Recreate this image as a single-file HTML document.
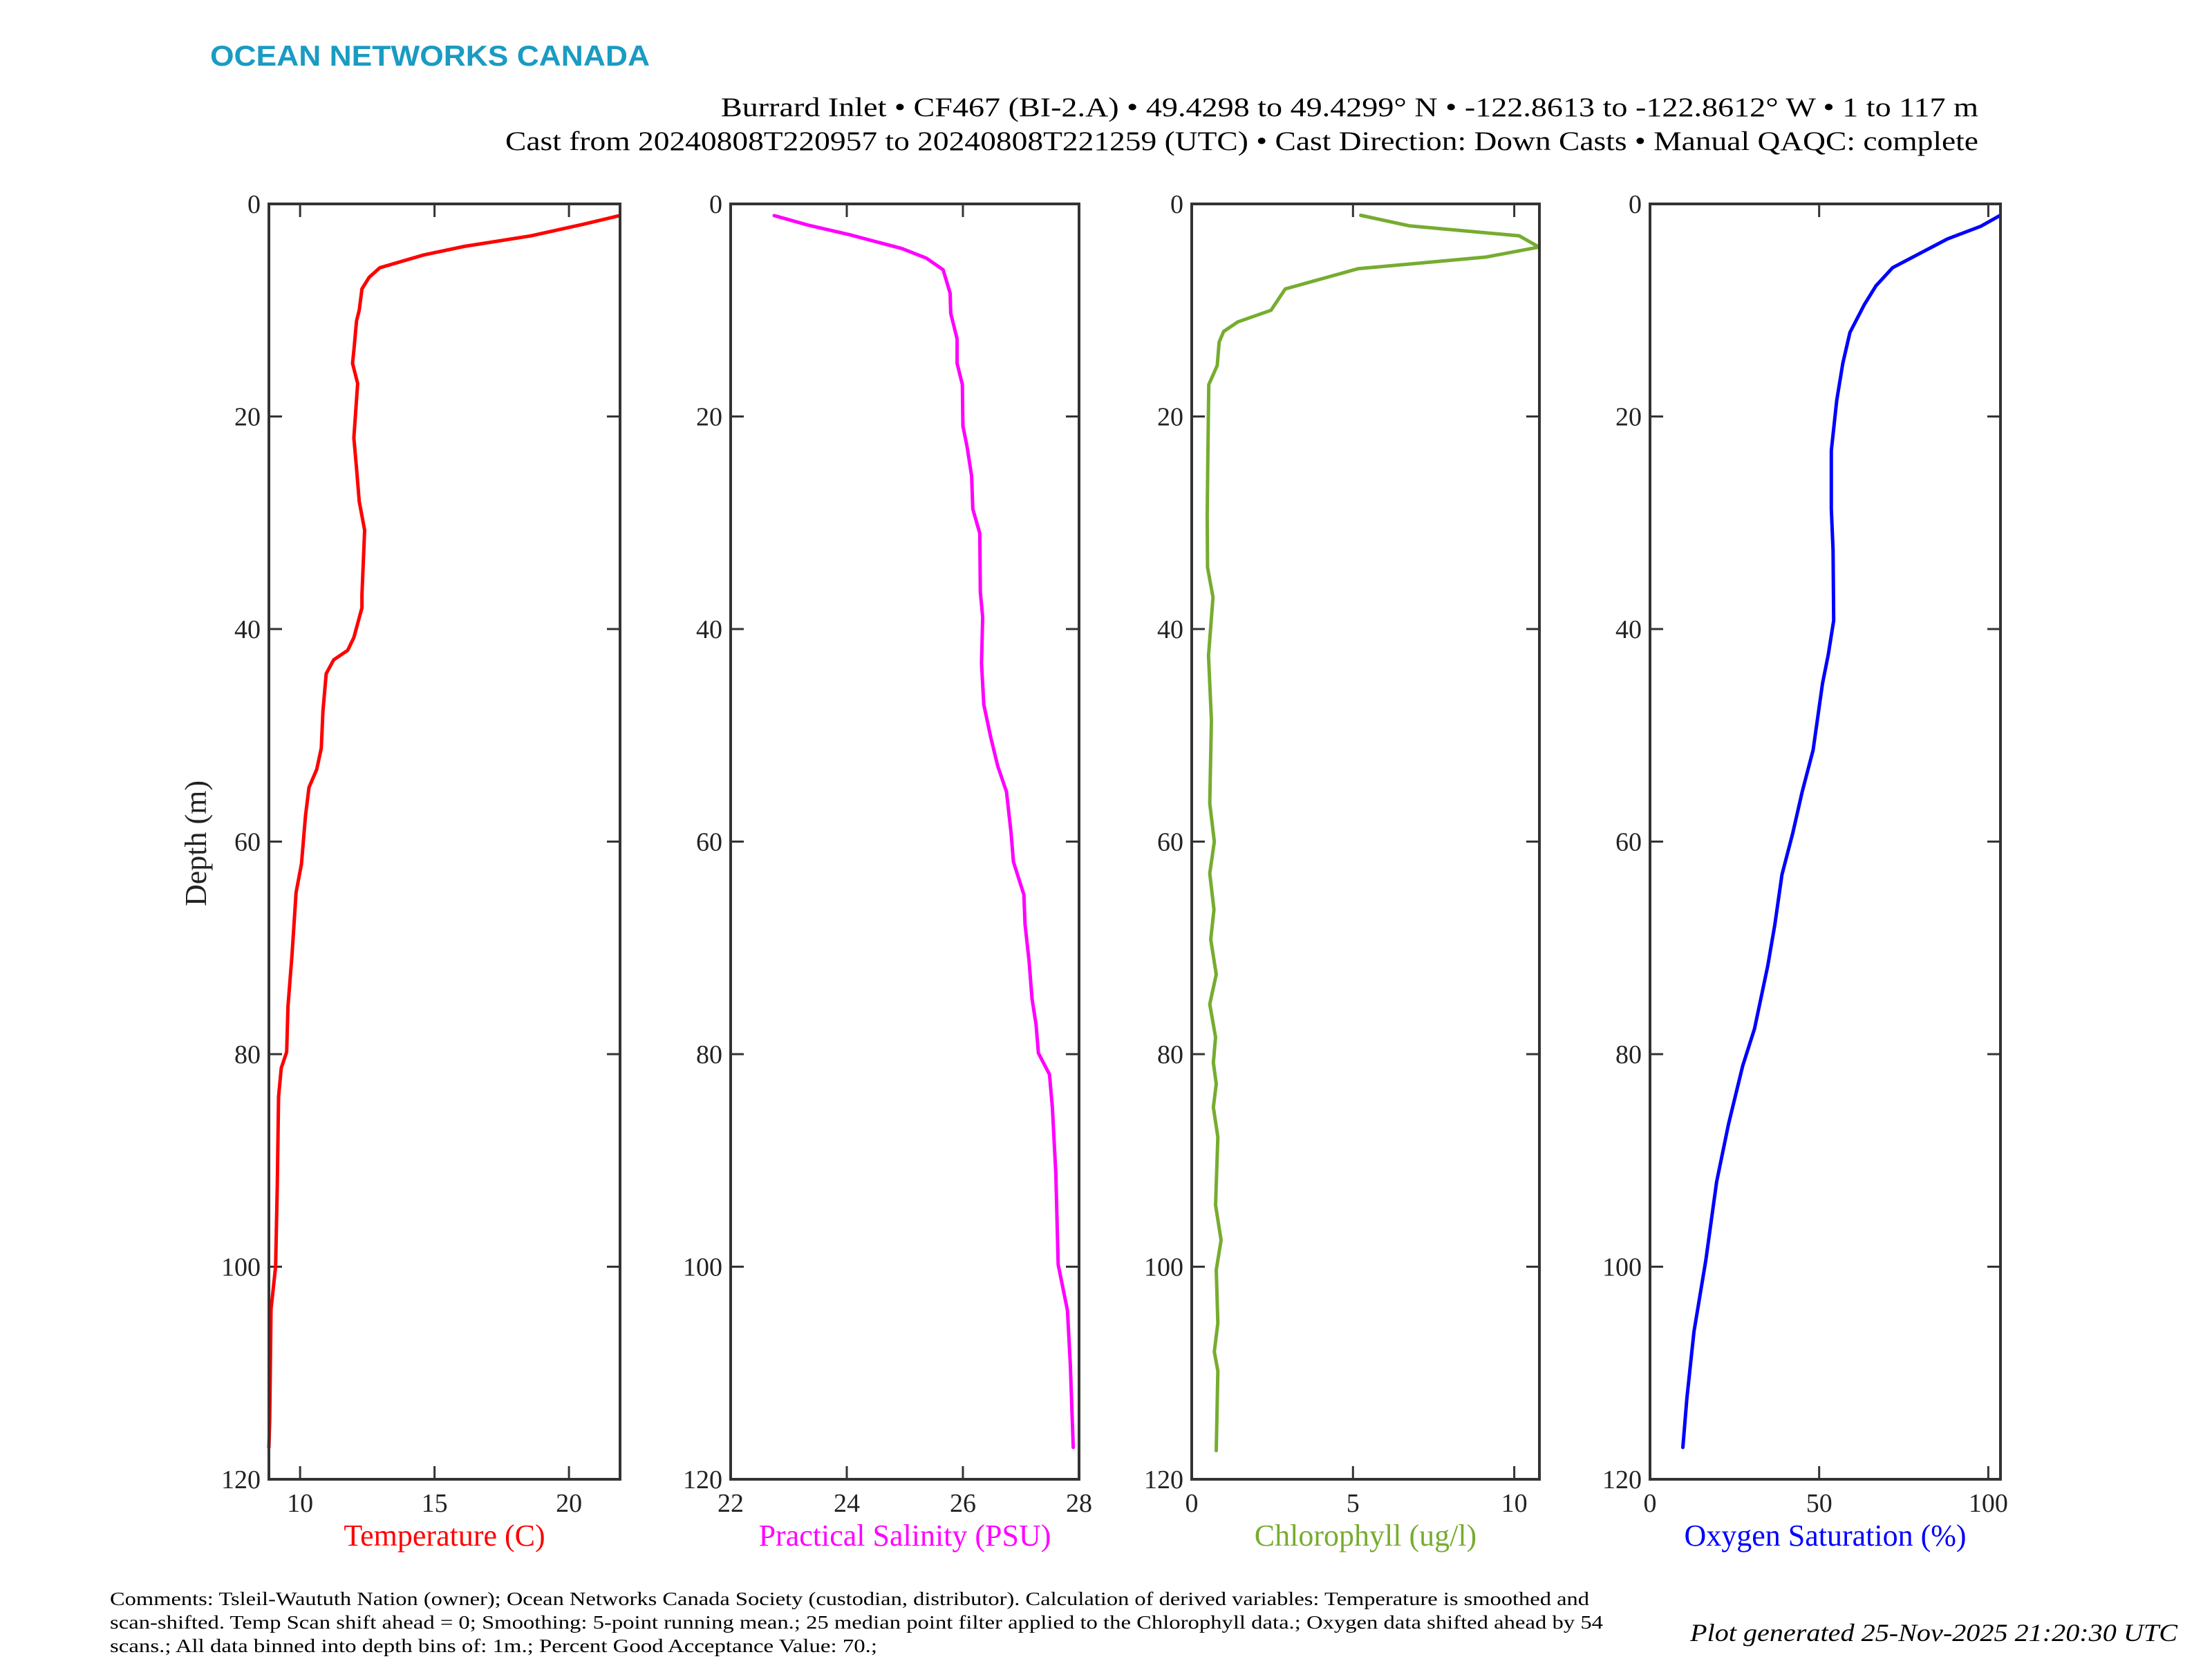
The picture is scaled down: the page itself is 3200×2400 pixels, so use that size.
<!DOCTYPE html>
<html><head><meta charset="utf-8"><style>
html,body{margin:0;padding:0;background:#fff;}
svg{display:block;}
text{font-family:"Liberation Serif",serif;}
</style></head><body>
<svg id="chart" width="3200" height="2400" viewBox="0 0 3200 2400" xmlns="http://www.w3.org/2000/svg">
<rect width="3200" height="2400" fill="#fff"/>
<text x="304" y="95" style="font-family:'Liberation Sans',sans-serif" font-weight="bold" font-size="42" fill="#1a9bc2" textLength="636" lengthAdjust="spacingAndGlyphs">OCEAN NETWORKS CANADA</text>
<text x="2862" y="168" text-anchor="end" font-size="39" fill="#000" textLength="1819" lengthAdjust="spacingAndGlyphs">Burrard Inlet • CF467 (BI-2.A) • 49.4298 to 49.4299° N • -122.8613 to -122.8612° W • 1 to 117 m</text>
<text x="2862" y="217" text-anchor="end" font-size="39" fill="#000" textLength="2131" lengthAdjust="spacingAndGlyphs">Cast from 20240808T220957 to 20240808T221259 (UTC) • Cast Direction: Down Casts • Manual QAQC: complete</text>
<text transform="translate(298,1220) rotate(-90)" text-anchor="middle" font-size="44" fill="#222">Depth (m)</text>
<g id="panels"></g>
<text x="159" y="2322" font-size="27" fill="#000" textLength="2140" lengthAdjust="spacingAndGlyphs">Comments: Tsleil-Waututh Nation (owner); Ocean Networks Canada Society (custodian, distributor). Calculation of derived variables: Temperature is smoothed and</text>
<text x="159" y="2356" font-size="27" fill="#000" textLength="2160" lengthAdjust="spacingAndGlyphs">scan-shifted. Temp Scan shift ahead = 0; Smoothing: 5-point running mean.; 25 median point filter applied to the Chlorophyll data.; Oxygen data shifted ahead by 54</text>
<text x="159" y="2390" font-size="27" fill="#000" textLength="1110" lengthAdjust="spacingAndGlyphs">scans.; All data binned into depth bins of: 1m.; Percent Good Acceptance Value: 70.;</text>
<text x="3150" y="2374" text-anchor="end" font-size="36" font-style="italic" fill="#000" textLength="705" lengthAdjust="spacingAndGlyphs">Plot generated 25-Nov-2025 21:20:30 UTC</text>
</svg>
<script>
const depthTicks = [0,20,40,60,80,100,120];
const tempDepth = [1.1,1.9,3,4,4.8,6,6.9,8,10,11,13.8,15,16.9,22,24.9,28,30.7,36.8,38,40.8,42,42.9,44.2,47.7,51.2,53.2,54.9,57.6,62.1,64.8,70.6,75.5,79.8,81.3,84,92.5,100,104,114.4,117];
const tempValues = [21.88,20.56,18.6,16.1,14.6,12.97,12.57,12.3,12.2,12.1,12.0,11.95,12.14,12.0,12.1,12.2,12.4,12.3,12.3,12.0,11.77,11.25,10.97,10.85,10.79,10.62,10.33,10.2,10.05,9.85,9.7,9.55,9.5,9.3,9.2,9.15,9.09,8.92,8.87,8.84];
const tempTicks = [10,15,20];
const salDepth = [1.1,2,2.9,4.2,5.1,6.2,8.4,10.3,12.7,15,17,20.9,22.8,25.6,28.7,31,36.5,38.9,43.2,47.1,50.2,52.9,55.3,59.2,61.9,65,67.8,71.3,74.8,77.2,79.9,81.9,85,91.2,99.8,104.1,109.2,117];
const salValues = [22.75,23.34,24.05,24.95,25.37,25.66,25.78,25.79,25.9,25.9,25.99,26.0,26.07,26.15,26.17,26.29,26.3,26.34,26.32,26.36,26.48,26.6,26.75,26.83,26.87,27.05,27.07,27.14,27.19,27.26,27.3,27.49,27.54,27.6,27.64,27.8,27.85,27.9];
const salTicks = [22,24,26,28];
const chlDepth = [1.07,2.07,3,4.06,5,6.1,8,10,11.1,12,13,15.2,17,24,29.4,34.2,37,42.5,48.6,56.4,60,63,66.4,69.2,72.5,75.3,78.4,80.8,82.8,85,87.8,94.2,97.5,100.3,105.3,108,109.8,117.3];
const chlValues = [5.24,6.76,10.15,10.77,9.12,5.15,2.9,2.46,1.43,0.99,0.85,0.79,0.53,0.5,0.48,0.49,0.66,0.52,0.61,0.56,0.7,0.56,0.69,0.59,0.76,0.56,0.74,0.67,0.76,0.67,0.81,0.74,0.91,0.76,0.81,0.7,0.81,0.76];
const chlTicks = [0,5,10];
const oxyDepth = [1.1,2.1,3.3,6,7.7,9.5,12.1,15,18.5,23.2,28.7,32.6,39.2,42.4,45.1,51.4,55.3,59.2,63.1,67.8,71.7,77.6,81.1,86.6,92,99.4,106.1,112.4,117];
const oxyValues = [103.4,97.8,87.9,71.7,66.8,63.3,59.1,57,55.2,53.6,53.6,54.1,54.3,52.7,51,48.2,45,42.2,39,36.9,34.8,30.9,27.4,23.2,19.7,16.5,13,10.9,9.7];
const oxyTicks = [0,50,100];

const NS='http://www.w3.org/2000/svg';
const TOP=295, BOT=2140;
function yScale(d){return TOP+(d/120)*(BOT-TOP);}
function mk(tag,attrs,parent){const e=document.createElementNS(NS,tag);for(const k in attrs)e.setAttribute(k,attrs[k]);parent.appendChild(e);return e;}
const root=document.getElementById('panels');
const panels=[
 {key:'temperature',x0:389,x1:897,min:8.84,max:21.9,ticks:tempTicks,vals:tempValues,dep:tempDepth,color:'#ff0000',label:'Temperature (C)'},
 {key:'salinity',x0:1057,x1:1561,min:22,max:28,ticks:salTicks,vals:salValues,dep:salDepth,color:'#ff00ff',label:'Practical Salinity (PSU)'},
 {key:'chlorophyll',x0:1724,x1:2227,min:0,max:10.78,ticks:chlTicks,vals:chlValues,dep:chlDepth,color:'#77ac30',label:'Chlorophyll (ug/l)'},
 {key:'oxygen',x0:2387,x1:2894,min:0,max:103.6,ticks:oxyTicks,vals:oxyValues,dep:oxyDepth,color:'#0000ff',label:'Oxygen Saturation (%)'}
];
panels.forEach(p=>{
 const xs=v=>p.x0+(v-p.min)/(p.max-p.min)*(p.x1-p.x0);
 const g=mk('g',{},root);
 
 
 p.ticks.forEach(t=>{
  const x=xs(t);
  const t1=mk('line',{x1:x,x2:x,y1:BOT,y2:BOT-19,stroke:'#333','stroke-width':3},g);
  
  
  const t2=mk('line',{x1:x,x2:x,y1:TOP,y2:TOP+19,stroke:'#333','stroke-width':3},g);
  
  
  const lb=mk('text',{x:x,y:2187,'text-anchor':'middle','font-size':38,fill:'#222'},g);
  lb.textContent=t;
  
  
 });
 depthTicks.forEach(d=>{
  const y=yScale(d);
  const a=mk('line',{x1:p.x0,x2:p.x0+19,y1:y,y2:y,stroke:'#333','stroke-width':3},g);
  
  
  const b=mk('line',{x1:p.x1,x2:p.x1-19,y1:y,y2:y,stroke:'#333','stroke-width':3},g);
  
  
  const lb=mk('text',{x:p.x0-12,y:y+13,'text-anchor':'end','font-size':38,fill:'#222'},g);
  lb.textContent=d;
  
  
 });
 const pts=p.vals.map((v,i)=>xs(v).toFixed(1)+','+yScale(p.dep[i]).toFixed(1)).join(' ');
 const line=mk('polyline',{points:pts,fill:'none',stroke:p.color,'stroke-width':5,'stroke-linejoin':'round','stroke-linecap':'round'},g);
 
 
 const box=mk('rect',{x:p.x0,y:TOP,width:p.x1-p.x0,height:BOT-TOP,fill:'none',stroke:'#333','stroke-width':4},g);
 
 
 const xl=mk('text',{x:(p.x0+p.x1)/2,y:2236,'text-anchor':'middle','font-size':44,fill:p.color},g);
 xl.textContent=p.label;
 
 
});
</script>
</body></html>
